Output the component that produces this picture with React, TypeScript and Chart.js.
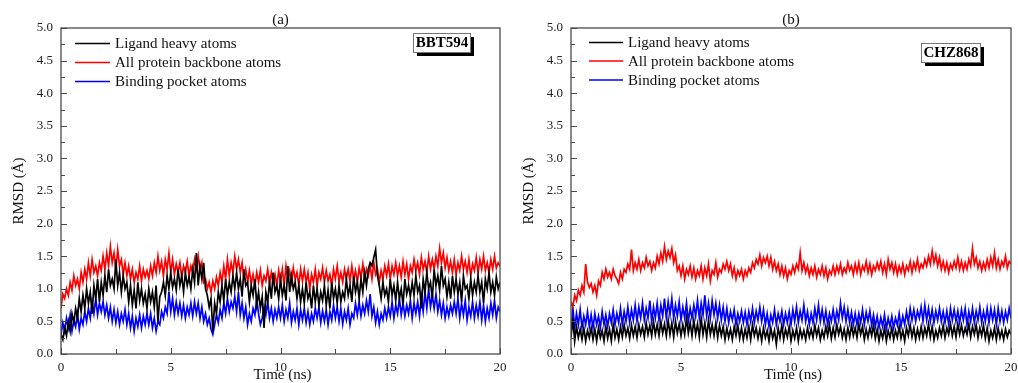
import React, { useEffect, useRef } from "react";
import { Chart, registerables } from "chart.js";

Chart.register(...registerables);

const SAMPLES_PER_NS = 12;
const SERIES_LABELS = ["Ligand heavy atoms", "All protein backbone atoms", "Binding pocket atoms"];
const SERIES_COLORS = ["#000000", "#ff0000", "#0000ff"];
const PANEL_TITLES = ["(a)", "(b)"];
const PANEL_TAGS = ["BBT594", "CHZ868"];
const Y_TITLE = "RMSD (Å)";
const X_TITLE = "Time (ns)";

// Panel (a): BBT594 — one row per ns
const A_LIGAND = [
  0.30, 0.22, 0.40, 0.28, 0.50, 0.35, 0.62, 0.48, 0.70, 0.55, 0.85, 0.65,
  0.90, 0.70, 1.00, 0.78, 0.95, 0.62, 1.05, 0.85, 1.15, 0.80, 1.10, 0.90,
  1.20, 0.95, 1.30, 1.05, 1.15, 1.00, 1.45, 1.05, 1.25, 0.95, 1.20, 1.00,
  1.10, 0.80, 1.05, 0.75, 0.98, 0.70, 1.10, 0.82, 1.00, 0.78, 0.92, 0.70,
  1.00, 0.80, 0.95, 0.72, 1.05, 0.50, 0.88, 0.95, 1.10, 0.90, 1.20, 1.00,
  1.25, 1.02, 1.15, 0.98, 1.30, 1.05, 1.20, 0.95, 1.25, 1.05, 1.18, 1.00,
  1.30, 1.10, 1.55, 1.05, 1.35, 1.15, 1.40, 1.00, 0.90, 0.72, 0.85, 0.35,
  0.78, 0.62, 0.95, 0.80, 1.05, 0.82, 1.15, 0.90, 1.10, 0.95, 1.20, 1.00,
  1.25, 1.00, 1.15, 0.88, 1.30, 1.05, 1.10, 0.80, 1.05, 0.90, 1.15, 0.75,
  0.95, 0.70, 0.88, 0.40, 0.95, 0.80, 1.10, 0.85, 1.25, 0.95, 1.05, 0.85,
  1.15, 0.90, 1.05, 0.82, 1.35, 0.95, 1.20, 1.00, 1.10, 0.85, 1.05, 0.80,
  1.00, 0.78, 1.10, 0.85, 0.95, 0.70, 1.05, 0.80, 1.00, 0.75, 0.95, 0.82,
  1.05, 0.75, 0.98, 0.70, 1.10, 0.85, 1.00, 0.78, 1.05, 0.80, 0.95, 0.85,
  1.15, 0.90, 1.05, 0.80, 1.20, 0.95, 1.10, 0.85, 1.15, 0.95, 1.25, 1.05,
  1.30, 1.40, 1.35, 1.48, 1.60, 1.20, 1.05, 0.85, 1.10, 0.90, 1.00, 0.80,
  1.15, 0.90, 1.05, 0.82, 1.10, 0.85, 1.00, 0.75, 1.15, 0.92, 1.05, 0.88,
  1.10, 0.90, 1.20, 0.95, 1.05, 0.70, 1.15, 0.95, 1.25, 1.00, 1.10, 0.85,
  1.30, 1.05, 1.20, 0.98, 1.35, 1.05, 1.15, 0.88, 1.10, 0.85, 1.20, 0.95,
  1.15, 0.92, 1.10, 0.80, 1.20, 1.00, 1.05, 0.85, 1.15, 0.90, 1.10, 0.95,
  1.20, 0.95, 1.10, 0.78, 1.15, 1.00, 1.25, 0.95, 1.10, 0.90, 1.18, 1.00,
  1.10,
];
const A_BACKBONE = [
  0.70, 0.92, 0.85, 1.00, 0.90, 1.10, 0.98, 1.20, 1.05, 1.15, 1.00, 1.25,
  1.10, 1.30, 1.15, 1.40, 1.20, 1.45, 1.25, 1.35, 1.20, 1.40, 1.28, 1.50,
  1.30, 1.55, 1.35, 1.65, 1.40, 1.55, 1.30, 1.60, 1.35, 1.45, 1.22, 1.40,
  1.20, 1.35, 1.15, 1.30, 1.10, 1.25, 1.15, 1.35, 1.12, 1.30, 1.18, 1.28,
  1.15, 1.35, 1.20, 1.40, 1.25, 1.50, 1.28, 1.42, 1.20, 1.45, 1.30, 1.55,
  1.25, 1.45, 1.22, 1.38, 1.25, 1.40, 1.18, 1.35, 1.25, 1.42, 1.20, 1.35,
  1.25, 1.45, 1.30, 1.50, 1.28, 1.40, 1.10, 1.15, 1.00, 1.10, 0.95, 1.12,
  1.00, 1.18, 1.05, 1.25, 1.10, 1.35, 1.15, 1.45, 1.20, 1.40, 1.25, 1.50,
  1.30, 1.45, 1.25, 1.40, 1.15, 1.30, 1.10, 1.28, 1.08, 1.22, 1.05, 1.25,
  1.10, 1.28, 1.05, 1.20, 1.12, 1.30, 1.08, 1.25, 1.10, 1.22, 1.05, 1.28,
  1.10, 1.30, 1.05, 1.35, 1.15, 1.28, 1.10, 1.32, 1.15, 1.25, 1.05, 1.30,
  1.12, 1.30, 1.10, 1.25, 1.00, 1.22, 1.10, 1.30, 1.05, 1.25, 1.15, 1.32,
  1.10, 1.28, 1.12, 1.22, 1.05, 1.30, 1.15, 1.35, 1.12, 1.25, 1.10, 1.30,
  1.15, 1.30, 1.12, 1.35, 1.15, 1.28, 1.10, 1.32, 1.18, 1.38, 1.15, 1.30,
  1.20, 1.35, 1.15, 1.40, 1.22, 1.30, 1.10, 1.28, 1.15, 1.35, 1.20, 1.38,
  1.15, 1.35, 1.22, 1.40, 1.20, 1.35, 1.18, 1.42, 1.22, 1.38, 1.15, 1.35,
  1.25, 1.45, 1.28, 1.40, 1.22, 1.48, 1.30, 1.42, 1.25, 1.50, 1.30, 1.45,
  1.30, 1.50, 1.35, 1.62, 1.40, 1.55, 1.32, 1.48, 1.28, 1.42, 1.25, 1.45,
  1.22, 1.40, 1.28, 1.50, 1.30, 1.42, 1.25, 1.45, 1.20, 1.38, 1.28, 1.48,
  1.25, 1.45, 1.30, 1.50, 1.28, 1.40, 1.25, 1.45, 1.30, 1.50, 1.32, 1.40,
  1.35,
];
const A_POCKET = [
  0.30, 0.48, 0.35, 0.55, 0.40, 0.60, 0.35, 0.52, 0.42, 0.62, 0.38, 0.55,
  0.45, 0.65, 0.50, 0.70, 0.55, 0.80, 0.62, 0.85, 0.60, 0.78, 0.65, 0.80,
  0.60, 0.75, 0.55, 0.72, 0.50, 0.68, 0.48, 0.65, 0.45, 0.62, 0.50, 0.68,
  0.45, 0.62, 0.40, 0.58, 0.35, 0.55, 0.42, 0.60, 0.40, 0.58, 0.45, 0.62,
  0.45, 0.62, 0.40, 0.55, 0.35, 0.50, 0.45, 0.65, 0.55, 0.72, 0.62, 0.95,
  0.65, 0.85, 0.60, 0.80, 0.62, 0.78, 0.58, 0.75, 0.55, 0.72, 0.60, 0.78,
  0.58, 0.80, 0.62, 0.78, 0.55, 0.72, 0.50, 0.62, 0.45, 0.55, 0.38, 0.30,
  0.45, 0.60, 0.48, 0.68, 0.55, 0.78, 0.62, 0.85, 0.65, 0.80, 0.70, 0.88,
  0.65, 0.95, 0.60, 0.78, 0.55, 0.72, 0.45, 0.62, 0.50, 0.70, 0.60, 0.85,
  0.62, 0.45, 0.55, 0.72, 0.60, 0.80, 0.55, 0.70, 0.50, 0.68, 0.55, 0.72,
  0.55, 0.75, 0.50, 0.68, 0.55, 0.78, 0.48, 0.65, 0.52, 0.70, 0.45, 0.68,
  0.52, 0.70, 0.48, 0.65, 0.45, 0.62, 0.50, 0.70, 0.55, 0.72, 0.48, 0.66,
  0.50, 0.68, 0.45, 0.65, 0.52, 0.75, 0.55, 0.72, 0.50, 0.70, 0.46, 0.65,
  0.52, 0.70, 0.45, 0.62, 0.55, 0.78, 0.60, 0.80, 0.58, 0.75, 0.62, 0.82,
  0.65, 0.92, 0.58, 0.72, 0.48, 0.65, 0.45, 0.62, 0.52, 0.70, 0.55, 0.72,
  0.58, 0.80, 0.55, 0.75, 0.62, 0.85, 0.60, 0.78, 0.58, 0.75, 0.62, 0.82,
  0.55, 0.78, 0.62, 0.80, 0.58, 0.88, 0.65, 0.95, 0.70, 1.00, 0.72, 0.90,
  0.70, 0.92, 0.65, 0.82, 0.60, 0.78, 0.55, 0.72, 0.58, 0.75, 0.62, 0.80,
  0.62, 0.85, 0.55, 0.78, 0.60, 0.82, 0.52, 0.72, 0.58, 0.80, 0.55, 0.75,
  0.58, 0.80, 0.52, 0.75, 0.50, 0.70, 0.55, 0.78, 0.60, 0.82, 0.55, 0.72,
  0.65,
];

// Panel (b): CHZ868 — one row per ns
const B_LIGAND = [
  0.25, 0.55, 0.20, 0.42, 0.25, 0.38, 0.22, 0.40, 0.20, 0.36, 0.25, 0.40,
  0.22, 0.38, 0.20, 0.40, 0.25, 0.36, 0.20, 0.42, 0.24, 0.38, 0.20, 0.45,
  0.25, 0.38, 0.22, 0.42, 0.26, 0.45, 0.28, 0.40, 0.24, 0.44, 0.28, 0.42,
  0.25, 0.45, 0.30, 0.42, 0.26, 0.48, 0.30, 0.44, 0.28, 0.50, 0.30, 0.45,
  0.28, 0.50, 0.32, 0.46, 0.28, 0.52, 0.30, 0.48, 0.26, 0.50, 0.32, 0.46,
  0.28, 0.45, 0.30, 0.55, 0.32, 0.48, 0.28, 0.52, 0.30, 0.46, 0.26, 0.55,
  0.30, 0.48, 0.26, 0.52, 0.30, 0.45, 0.28, 0.48, 0.25, 0.44, 0.28, 0.42,
  0.22, 0.40, 0.25, 0.38, 0.22, 0.42, 0.28, 0.44, 0.24, 0.40, 0.22, 0.38,
  0.25, 0.42, 0.22, 0.45, 0.28, 0.40, 0.24, 0.38, 0.20, 0.40, 0.25, 0.36,
  0.20, 0.40, 0.24, 0.36, 0.15, 0.40, 0.25, 0.44, 0.22, 0.38, 0.26, 0.42,
  0.20, 0.36, 0.24, 0.40, 0.20, 0.38, 0.25, 0.36, 0.22, 0.40, 0.26, 0.38,
  0.25, 0.44, 0.28, 0.40, 0.22, 0.36, 0.25, 0.42, 0.28, 0.45, 0.24, 0.40,
  0.26, 0.45, 0.30, 0.42, 0.25, 0.38, 0.22, 0.40, 0.26, 0.44, 0.28, 0.40,
  0.25, 0.46, 0.30, 0.42, 0.22, 0.38, 0.25, 0.40, 0.28, 0.44, 0.24, 0.38,
  0.20, 0.36, 0.24, 0.40, 0.20, 0.36, 0.25, 0.40, 0.22, 0.36, 0.25, 0.42,
  0.24, 0.36, 0.20, 0.40, 0.28, 0.45, 0.26, 0.40, 0.22, 0.38, 0.25, 0.42,
  0.25, 0.40, 0.28, 0.46, 0.26, 0.42, 0.22, 0.36, 0.25, 0.40, 0.28, 0.44,
  0.25, 0.40, 0.30, 0.46, 0.28, 0.42, 0.26, 0.46, 0.30, 0.44, 0.28, 0.40,
  0.30, 0.46, 0.26, 0.42, 0.30, 0.45, 0.25, 0.40, 0.28, 0.44, 0.24, 0.40,
  0.20, 0.36, 0.25, 0.40, 0.22, 0.40, 0.25, 0.36, 0.22, 0.38, 0.26, 0.36,
  0.30,
];
const B_BACKBONE = [
  0.80, 0.72, 0.90, 0.82, 0.98, 0.90, 1.05, 0.95, 1.38, 1.10, 1.02, 1.08,
  0.95, 1.05, 0.90, 1.12, 1.05, 1.25, 1.15, 1.30, 1.18, 1.25, 1.15, 1.30,
  1.20, 1.15, 1.08, 1.25, 1.15, 1.30, 1.25, 1.38, 1.30, 1.60, 1.28, 1.40,
  1.30, 1.45, 1.28, 1.40, 1.32, 1.48, 1.35, 1.42, 1.28, 1.40, 1.32, 1.50,
  1.38, 1.55, 1.42, 1.65, 1.45, 1.58, 1.48, 1.62, 1.40, 1.52, 1.28, 1.35,
  1.20, 1.35, 1.15, 1.30, 1.22, 1.35, 1.18, 1.32, 1.15, 1.28, 1.20, 1.35,
  1.15, 1.32, 1.20, 1.38, 1.12, 1.28, 1.22, 1.40, 1.18, 1.30, 1.25, 1.38,
  1.30, 1.42, 1.28, 1.38, 1.20, 1.32, 1.15, 1.28, 1.20, 1.30, 1.15, 1.28,
  1.20, 1.32, 1.25, 1.40, 1.32, 1.45, 1.38, 1.52, 1.35, 1.48, 1.40, 1.50,
  1.35, 1.48, 1.30, 1.42, 1.28, 1.38, 1.22, 1.35, 1.20, 1.32, 1.15, 1.28,
  1.22, 1.35, 1.25, 1.38, 1.30, 1.55, 1.28, 1.40, 1.25, 1.35, 1.20, 1.32,
  1.22, 1.35, 1.18, 1.30, 1.22, 1.35, 1.20, 1.32, 1.15, 1.28, 1.22, 1.35,
  1.22, 1.35, 1.25, 1.38, 1.22, 1.32, 1.25, 1.40, 1.28, 1.35, 1.22, 1.38,
  1.25, 1.40, 1.22, 1.35, 1.28, 1.42, 1.25, 1.38, 1.22, 1.35, 1.28, 1.40,
  1.30, 1.42, 1.25, 1.38, 1.22, 1.45, 1.30, 1.40, 1.25, 1.38, 1.22, 1.35,
  1.25, 1.38, 1.22, 1.35, 1.28, 1.42, 1.25, 1.40, 1.30, 1.45, 1.28, 1.38,
  1.32, 1.45, 1.35, 1.50, 1.38, 1.58, 1.40, 1.52, 1.35, 1.48, 1.30, 1.42,
  1.28, 1.40, 1.25, 1.38, 1.30, 1.42, 1.32, 1.48, 1.30, 1.42, 1.28, 1.40,
  1.30, 1.45, 1.35, 1.62, 1.38, 1.48, 1.32, 1.42, 1.28, 1.40, 1.30, 1.45,
  1.32, 1.48, 1.35, 1.55, 1.32, 1.45, 1.30, 1.42, 1.35, 1.50, 1.32, 1.42,
  1.38,
];
const B_POCKET = [
  0.30, 0.72, 0.40, 0.62, 0.45, 0.68, 0.40, 0.58, 0.45, 0.65, 0.42, 0.60,
  0.40, 0.62, 0.45, 0.58, 0.40, 0.65, 0.45, 0.60, 0.42, 0.62, 0.48, 0.68,
  0.45, 0.62, 0.48, 0.70, 0.45, 0.65, 0.50, 0.72, 0.48, 0.68, 0.52, 0.75,
  0.50, 0.72, 0.55, 0.78, 0.52, 0.70, 0.55, 0.82, 0.50, 0.72, 0.55, 0.78,
  0.52, 0.75, 0.58, 0.85, 0.55, 0.80, 0.60, 0.85, 0.55, 0.75, 0.58, 0.80,
  0.52, 0.72, 0.55, 0.78, 0.50, 0.70, 0.55, 0.75, 0.58, 0.82, 0.55, 0.78,
  0.60, 0.90, 0.58, 0.78, 0.55, 0.82, 0.60, 0.78, 0.55, 0.75, 0.52, 0.72,
  0.50, 0.70, 0.48, 0.65, 0.52, 0.68, 0.45, 0.62, 0.50, 0.66, 0.48, 0.64,
  0.45, 0.65, 0.50, 0.70, 0.48, 0.66, 0.52, 0.72, 0.50, 0.68, 0.45, 0.62,
  0.42, 0.60, 0.48, 0.68, 0.45, 0.62, 0.50, 0.66, 0.45, 0.62, 0.48, 0.65,
  0.45, 0.68, 0.50, 0.72, 0.48, 0.66, 0.52, 0.75, 0.50, 0.65, 0.45, 0.62,
  0.48, 0.70, 0.52, 0.75, 0.50, 0.68, 0.48, 0.66, 0.45, 0.62, 0.50, 0.68,
  0.48, 0.66, 0.52, 0.78, 0.55, 0.72, 0.50, 0.68, 0.48, 0.64, 0.45, 0.62,
  0.45, 0.62, 0.48, 0.68, 0.45, 0.64, 0.50, 0.66, 0.44, 0.60, 0.42, 0.58,
  0.40, 0.56, 0.42, 0.60, 0.38, 0.55, 0.42, 0.58, 0.40, 0.55, 0.44, 0.62,
  0.42, 0.58, 0.45, 0.65, 0.48, 0.70, 0.52, 0.68, 0.50, 0.66, 0.55, 0.72,
  0.50, 0.75, 0.52, 0.70, 0.50, 0.68, 0.48, 0.66, 0.52, 0.70, 0.50, 0.65,
  0.48, 0.66, 0.45, 0.70, 0.52, 0.68, 0.50, 0.66, 0.48, 0.68, 0.52, 0.70,
  0.45, 0.65, 0.50, 0.70, 0.48, 0.66, 0.52, 0.72, 0.48, 0.65, 0.50, 0.70,
  0.48, 0.70, 0.52, 0.68, 0.45, 0.70, 0.50, 0.66, 0.48, 0.65, 0.52, 0.70,
  0.55,
];

const FONT = "'Liberation Serif', 'DejaVu Serif', serif";
const AXIS_COLOR = "#4a4a4a";
const H = 383;

type PanelCfg = {
  left: number;
  width: number;
  plotLeft: number;
  plotRight: number;
  title: string;
  tag: string;
  tagBox: [number, number, number, number];
  legendLineX: [number, number];
  legendTextX: number;
  legendY: number[];
  series: number[][];
};

const PANELS: PanelCfg[] = [
  {
    left: 0, width: 509, plotLeft: 61, plotRight: 500,
    title: PANEL_TITLES[0], tag: PANEL_TAGS[0], tagBox: [413, 33, 57, 19],
    legendLineX: [75, 110], legendTextX: 115, legendY: [43.5, 62.5, 81.5],
    series: [A_LIGAND, A_BACKBONE, A_POCKET],
  },
  {
    left: 510, width: 508, plotLeft: 61, plotRight: 501,
    title: PANEL_TITLES[1], tag: PANEL_TAGS[1], tagBox: [411, 43, 59, 19],
    legendLineX: [79, 113], legendTextX: 118, legendY: [42.5, 61, 80],
    series: [B_LIGAND, B_BACKBONE, B_POCKET],
  },
];

const PLOT_TOP = 28;
const PLOT_BOTTOM = 354;

function Panel({ cfg }: { cfg: PanelCfg }) {
  const ref = useRef<HTMLCanvasElement | null>(null);
  useEffect(() => {
    const canvas = ref.current!;
    const times = cfg.series[0].map((_, i) => i / SAMPLES_PER_NS);
    const overlay = {
      id: "overlay",
      afterDatasetsDraw(chart: any) {
        const ctx = chart.ctx as CanvasRenderingContext2D;
        const { left, right, top, bottom } = chart.chartArea;
        const xs = chart.scales.x;
        const ys = chart.scales.y;
        ctx.save();
        ctx.strokeStyle = AXIS_COLOR;
        ctx.lineWidth = 1.3;
        ctx.strokeRect(left, top, right - left, bottom - top);
        ctx.lineWidth = 1;
        for (let v = 0; v <= 5.0001; v += 0.25) {
          const y = Math.round(ys.getPixelForValue(v)) + 0.5;
          const major = Math.abs(v * 2 - Math.round(v * 2)) < 1e-6;
          ctx.beginPath();
          ctx.moveTo(left, y);
          ctx.lineTo(left + (major ? 6 : 4), y);
          ctx.stroke();
        }
        for (let v = 0; v <= 20.0001; v += 2.5) {
          const x = Math.round(xs.getPixelForValue(v)) + 0.5;
          const major = Math.abs(v / 5 - Math.round(v / 5)) < 1e-6;
          ctx.beginPath();
          ctx.moveTo(x, bottom);
          ctx.lineTo(x, bottom - (major ? 6 : 5));
          ctx.stroke();
        }
        ctx.restore();
      },
      afterDraw(chart: any) {
        const ctx = chart.ctx as CanvasRenderingContext2D;
        const { left, right, top, bottom } = chart.chartArea;
        ctx.save();
        ctx.fillStyle = "#111";
        ctx.font = `15px ${FONT}`;
        ctx.textAlign = "center";
        ctx.textBaseline = "middle";
        ctx.fillText(cfg.title, (left + right) / 2, 20);
        ctx.fillText(X_TITLE, (left + right) / 2 + 2, 375);
        ctx.save();
        ctx.translate(19, (top + bottom) / 2);
        ctx.rotate(-Math.PI / 2);
        ctx.fillText(Y_TITLE, 0, 0);
        ctx.restore();
        ctx.textAlign = "left";
        SERIES_LABELS.forEach((lab, i) => {
          const y = cfg.legendY[i];
          ctx.strokeStyle = SERIES_COLORS[i];
          ctx.lineWidth = 1.5;
          ctx.beginPath();
          ctx.moveTo(cfg.legendLineX[0], y);
          ctx.lineTo(cfg.legendLineX[1], y);
          ctx.stroke();
          ctx.fillStyle = "#111";
          ctx.fillText(lab, cfg.legendTextX, y + 1);
        });
        const [bx, by, bw, bh] = cfg.tagBox;
        ctx.fillStyle = "#000";
        ctx.fillRect(bx + 4, by + 4, bw, bh);
        ctx.fillStyle = "#fff";
        ctx.fillRect(bx, by, bw, bh);
        ctx.strokeStyle = "#777";
        ctx.lineWidth = 1;
        ctx.strokeRect(bx + 0.5, by + 0.5, bw, bh);
        ctx.fillStyle = "#000";
        ctx.font = `bold 15px ${FONT}`;
        ctx.textAlign = "center";
        ctx.fillText(cfg.tag, bx + bw / 2 + 0.5, by + bh / 2 + 1);
        ctx.restore();
      },
    };
    const chart = new Chart(canvas, {
      type: "line",
      data: {
        datasets: cfg.series.map((vals, si) => ({
          label: SERIES_LABELS[si],
          data: vals.map((v, i) => ({ x: times[i], y: v })),
          borderColor: SERIES_COLORS[si],
          backgroundColor: SERIES_COLORS[si],
          borderWidth: 1.7,
          borderJoinStyle: "miter",
          pointRadius: 0,
          tension: 0,
          fill: false,
        })),
      },
      options: {
        animation: false,
        responsive: false,
        devicePixelRatio: 1,
        layout: {
          padding: { left: 0, top: PLOT_TOP, right: cfg.width - cfg.plotRight, bottom: 0 },
        },
        plugins: { legend: { display: false }, tooltip: { enabled: false }, title: { display: false } },
        scales: {
          x: {
            type: "linear",
            min: 0,
            max: 20,
            grid: { display: false, drawTicks: false },
            border: { display: false },
            ticks: {
              stepSize: 5,
              padding: 6,
              color: "#222",
              font: { family: FONT, size: 13 },
              maxRotation: 0,
              callback: (v: any) => String(v),
            },
            afterFit: (s: any) => {
              s.height = H - PLOT_BOTTOM;
              s.paddingLeft = 0;
              s.paddingRight = 0;
            },
          },
          y: {
            type: "linear",
            min: 0,
            max: 5,
            grid: { display: false, drawTicks: false },
            border: { display: false },
            ticks: {
              stepSize: 0.5,
              padding: 8,
              color: "#222",
              font: { family: FONT, size: 13 },
              callback: (v: any) => Number(v).toFixed(1),
            },
            afterFit: (s: any) => {
              s.width = cfg.plotLeft;
              s.paddingTop = 0;
              s.paddingBottom = 0;
            },
          },
        },
      },
      plugins: [overlay],
    } as any);
    return () => chart.destroy();
  }, [cfg]);
  return (
    <canvas
      ref={ref}
      width={cfg.width}
      height={H}
      style={{ position: "absolute", left: cfg.left, top: 0, width: cfg.width, height: H }}
    />
  );
}

export default function App() {
  return (
    <div style={{ position: "fixed", left: 0, top: 0, width: 1018, height: H, background: "#fff", overflow: "hidden" }}>
      {PANELS.map((p, i) => (
        <Panel key={i} cfg={p} />
      ))}
    </div>
  );
}
